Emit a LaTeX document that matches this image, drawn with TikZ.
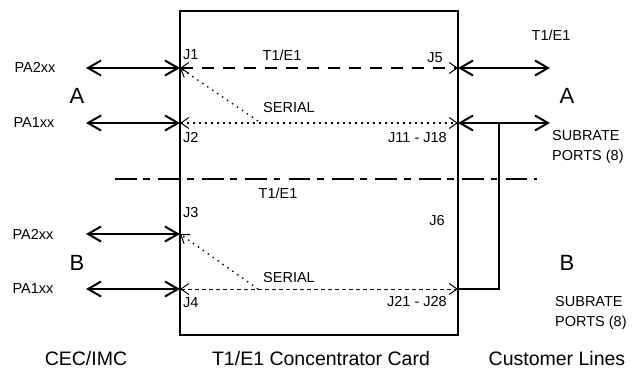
\documentclass[tikz,border=0pt]{standalone}
\usepackage{fontspec}
\setmainfont{Liberation Sans}
\usetikzlibrary{arrows.meta}
\tikzset{
  bigtip/.tip={Straight Barb[length=13pt,width=15pt,line width=2pt]},
  smalltip/.tip={Straight Barb[length=8pt,width=11pt,line width=1pt]},
  boldarrow/.style={line width=2pt, bigtip-bigtip},
  wire/.style={line width=2pt},
  cardbox/.style={line width=2pt},
  dashline/.style={line width=1.8pt, dash pattern=on 12pt off 9pt, smalltip-smalltip},
  dotline/.style={line width=2pt, dash pattern=on 2pt off 4pt, smalltip-smalltip},
  fineline/.style={line width=1pt, dash pattern=on 4pt off 3pt, smalltip-smalltip},
  diagline/.style={line width=1.3pt, dash pattern=on 1.5pt off 4.5pt, -smalltip},
  dashdot/.style={line width=2pt, dash pattern=on 21.7pt off 6.7pt on 6.7pt off 8.3pt},
  lbl/.style={font=\fontsize{14.5}{20}\selectfont, inner sep=0pt},
  biglbl/.style={font=\fontsize{22}{24}\selectfont, inner sep=0pt},
  caplbl/.style={font=\fontsize{19.5}{22}\selectfont, inner sep=0pt, text depth=0pt, anchor=base}
}
\begin{document}
\begin{tikzpicture}[x=1pt,y=-1pt]
\useasboundingbox (0,0) rectangle (632,369);
% card box
\draw[cardbox] (180,11) rectangle (458,335);
% junction coordinates on box edges
\coordinate (J1) at (180,68);
\coordinate (J2) at (180,123);
\coordinate (J3) at (180,234);
\coordinate (J4) at (180,289);
\coordinate (J5) at (458,68);
\coordinate (J11) at (458,123);
\coordinate (J21) at (458,289);
% outer ends
\coordinate (L1) at (86,68);
\coordinate (L2) at (86,123);
\coordinate (L3) at (86,234);
\coordinate (L4) at (86,289);
\coordinate (R1) at (550,68);
\coordinate (R2) at (550,123);
\coordinate (T1) at (499,123);
\coordinate (T2) at (499,289);
\coordinate (S1) at (258,121);
\coordinate (S2) at (258,289);
\coordinate (DL) at (115,179);
\coordinate (DR) at (537,179);
% dash-dot separator
\draw[dashdot] (DL) -- (DR);
% left arrows
\draw[boldarrow] (L1) -- (J1);
\draw[boldarrow] (L2) -- (J2);
\draw[boldarrow] (L3) -- (J3);
\draw[boldarrow] (L4) -- (J4);
% right arrows
\draw[boldarrow] (J5) -- (R1);
\draw[boldarrow] (J11) -- (R2);
\draw[wire] (T1) -- (T2) -- (J21);
% internal lines
\draw[dashline] (J1) -- (J5);
\draw[dotline] (J2) -- (J11);
\draw[fineline] (J4) -- (J21);
\draw[diagline] (S1) -- (J1);
\draw[diagline] (S2) -- (J3);
% labels left
\node[lbl] (pa2a) at (35,67) {PA2xx};
\node[lbl] (pa1a) at (34,123) {PA1xx};
\node[lbl] (pa2b) at (33,234) {PA2xx};
\node[lbl] (pa1b) at (33,289) {PA1xx};
\node[biglbl] (Aleft) at (77,96) {A};
\node[biglbl] (Bleft) at (77,263) {B};
\node[biglbl] (Aright) at (567,96) {A};
\node[biglbl] (Bright) at (567,263) {B};
% connector labels
\node[lbl, anchor=west] (lj1) at (183,55) {J1};
\node[lbl, anchor=west] (lj2) at (183,138) {J2};
\node[lbl, anchor=west] (lj3) at (183,213) {J3};
\node[lbl, anchor=west] (lj4) at (183,303) {J4};
\node[lbl, anchor=east] (lj5) at (443,58) {J5};
\node[lbl, anchor=east] (lj11) at (447,138) {J11 - J18};
\node[lbl, anchor=east] (lj6) at (445,221) {J6};
\node[lbl, anchor=east] (lj21) at (447,302) {J21 - J28};
\node[lbl] (t1top) at (282,55) {T1/E1};
\node[lbl] (t1mid) at (278,193) {T1/E1};
\node[lbl] (t1right) at (551,35) {T1/E1};
\node[lbl] (ser1) at (289,108) {SERIAL};
\node[lbl] (ser2) at (289,278) {SERIAL};
\node[lbl, anchor=west, align=left] (subA) at (552,147) {SUBRATE\\PORTS (8)};
\node[lbl, anchor=west, align=left] (subB) at (555,312.5) {SUBRATE\\PORTS (8)};
% captions
\node[caplbl] (cap1) at (86,365) {CEC/IMC};
\node[caplbl] (cap2) at (321,365) {T1/E1 Concentrator Card};
\node[caplbl] (cap3) at (557,365) {Customer Lines};
\end{tikzpicture}
\end{document}
